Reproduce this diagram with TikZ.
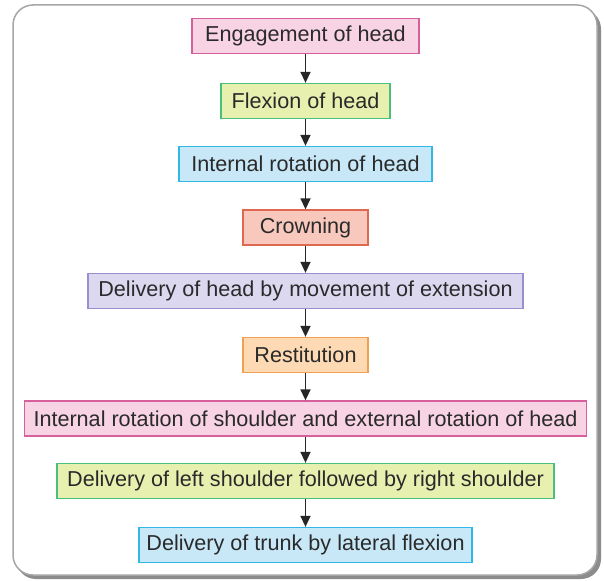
\documentclass[tikz,border=0pt]{standalone}
\usepackage{fontspec}
\setmainfont{Liberation Sans}
\usetikzlibrary{arrows.meta}
\definecolor{pinkF}{HTML}{F8D3E3}\definecolor{pinkB}{HTML}{D6609B}
\definecolor{greenF}{HTML}{E8F0B0}\definecolor{greenB}{HTML}{48C07C}
\definecolor{blueF}{HTML}{C8E8F8}\definecolor{blueB}{HTML}{30B8E8}
\definecolor{salF}{HTML}{F8C8BC}\definecolor{salB}{HTML}{E06850}
\definecolor{lavF}{HTML}{DCD8F0}\definecolor{lavB}{HTML}{9C8CD0}
\definecolor{orF}{HTML}{FDDAB4}\definecolor{orB}{HTML}{F0A050}
\definecolor{txt}{HTML}{2A2A2A}
\tikzset{
  stepbox/.style={draw, line width=1.3pt, minimum height=35pt, inner xsep=4pt, inner ysep=0pt,
    text=txt, font=\fontsize{21.6}{25}\selectfont},
  pinkbox/.style={stepbox, fill=pinkF, draw=pinkB},
  greenbox/.style={stepbox, fill=greenF, draw=greenB},
  bluebox/.style={stepbox, fill=blueF, draw=blueB},
  salbox/.style={stepbox, fill=salF, draw=salB},
  lavbox/.style={stepbox, fill=lavF, draw=lavB},
  orbox/.style={stepbox, fill=orF, draw=orB},
  flow/.style={line width=1.5pt, draw=black!85, -{Triangle[length=11pt,width=10pt]}}
}
\begin{document}
\begin{tikzpicture}[x=1pt,y=-1pt]
\useasboundingbox (0,0) rectangle (604,580);
\fill[white] (0,0) rectangle (604,580);
% frame with shadow
\fill[black!45, rounded corners=20pt] (16,9) rectangle (601,579);
\draw[black!35, line width=1.5pt, fill=white, rounded corners=20pt] (13,5) rectangle (597,575);

\node[pinkbox, minimum width=227pt] (n1) at (305.5,36) {Engagement of head};
\node[greenbox, minimum width=169pt] (n2) at (305.5,101) {Flexion of head};
\node[bluebox, minimum width=253pt] (n3) at (305.5,164) {Internal rotation of head};
\node[salbox, minimum width=125pt] (n4) at (305.5,227.5) {Crowning};
\node[lavbox, minimum width=435pt] (n5) at (305.5,291) {Delivery of head by movement of extension};
\node[orbox, minimum width=125pt] (n6) at (305.5,355) {Restitution};
\node[pinkbox, minimum width=562pt] (n7) at (305.5,418.5) {Internal rotation of shoulder and external rotation of head};
\node[greenbox, minimum width=497pt] (n8) at (305.5,481) {Delivery of left shoulder followed by right shoulder};
\node[bluebox, minimum width=333pt] (n9) at (305.5,545) {Delivery of trunk by lateral flexion};

\foreach \a/\b in {n1/n2,n2/n3,n3/n4,n4/n5,n5/n6,n6/n7,n7/n8,n8/n9}
  \draw[flow] (\a.south) -- (\b.north);
\end{tikzpicture}
\end{document}
